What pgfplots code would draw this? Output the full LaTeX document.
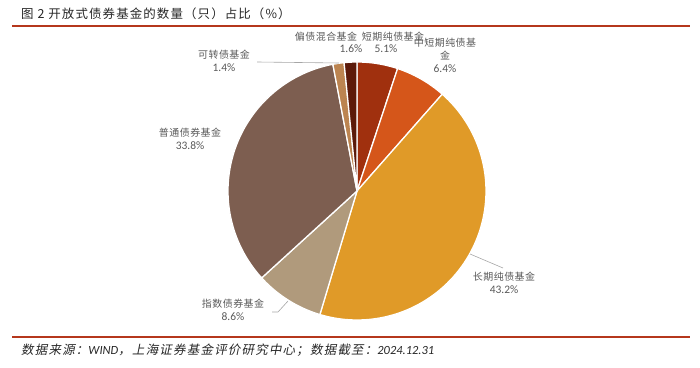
\documentclass[border=0pt]{standalone}
\usepackage{fontspec}
\setmainfont{Carlito}
\newfontfamily\cjk[LetterSpace=5]{Noto Sans CJK SC}
\newfontfamily\cjkt[LetterSpace=9]{Noto Sans CJK SC}
\newfontfamily\cjki[FakeSlant=0.2,LetterSpace=10]{Noto Sans CJK SC}
\usepackage{pgfplots}
\usepackage{pgfplotstable}
\pgfplotsset{compat=1.18}
\definecolor{c0}{HTML}{A0300E}
\definecolor{c1}{HTML}{D5561A}
\definecolor{c2}{HTML}{E09A28}
\definecolor{c3}{HTML}{B09A7C}
\definecolor{c4}{HTML}{7D5E50}
\definecolor{c5}{HTML}{BC8450}
\definecolor{c6}{HTML}{5C1A0A}
\definecolor{rline}{HTML}{B5371C}
\definecolor{lbl}{HTML}{595959}
\definecolor{lead}{HTML}{A6A6A6}
\pgfplotstableread{
name val
短期纯债基金 5.1
中短期纯债基金 6.4
长期纯债基金 43.2
指数债券基金 8.6
普通债券基金 33.8
可转债基金 1.4
偏债混合基金 1.6
}\piedata
\begin{document}
\begin{tikzpicture}
\def\cur{90}
\pgfplotsforeachungrouped \i in {0,...,6}{%
  \pgfplotstablegetelem{\i}{val}\of\piedata
  \pgfmathsetmacro\tmp{\cur-\pgfplotsretval*360/100.1}%
  \expandafter\let\csname beg\i\endcsname\cur
  \expandafter\let\csname end\i\endcsname\tmp
  \let\cur\tmp
}
\begin{axis}[width=700bp, height=367bp, scale only axis,
  xmin=0, xmax=700, ymin=0, ymax=367, axis lines=none, clip=false]
\path (axis cs:0,0) rectangle (axis cs:700,367);
\pgfplotsinvokeforeach{0,...,6}{%
  \addplot[fill=c#1, draw=white, line width=1.3pt, line join=round,
    domain={\csname end#1\endcsname}:{\csname beg#1\endcsname}, samples=80, variable=\t]
    ({357+129*cos(\t)},{176+129*sin(\t)}) -- (axis cs:357,176) -- cycle;
}
% leader lines
\draw[lead, line width=0.6pt] (axis cs:257,305) -- (axis cs:339,304);
\draw[lead, line width=0.6pt] (axis cs:272,55) -- (axis cs:278,55) -- (axis cs:288,66);
\draw[lead, line width=0.6pt] (axis cs:470,113) -- (axis cs:503,99);
% labels
\begin{scope}[every node/.style={text=lbl, inner sep=0pt, font=\fontsize{10}{11}\selectfont},
  pct/.style={font=\fontsize{11.5}{12}\selectfont}]
\node at (axis cs:326,330) {\cjk 偏债混合基金};
\node[pct] at (axis cs:351,318) {1.6\%};
\node at (axis cs:393,330) {\cjk 短期纯债基金};
\node[pct] at (axis cs:386,318) {5.1\%};
\node at (axis cs:445,324) {\cjk 中短期纯债基};
\node at (axis cs:445,311) {\cjk 金};
\node[pct] at (axis cs:445,298) {6.4\%};
\node at (axis cs:224,312) {\cjk 可转债基金};
\node[pct] at (axis cs:224,299) {1.4\%};
\node at (axis cs:190,234) {\cjk 普通债券基金};
\node[pct] at (axis cs:190,221) {33.8\%};
\node at (axis cs:233,63) {\cjk 指数债券基金};
\node[pct] at (axis cs:233,50) {8.6\%};
\node at (axis cs:504,90) {\cjk 长期纯债基金};
\node[pct] at (axis cs:504,77) {43.2\%};
\end{scope}
% title and footer
\node[anchor=west, inner sep=0pt, text=black!85, font=\fontsize{12.5}{14}\selectfont] at (axis cs:21,353) {\cjkt 图\ 2\ 开放式债券基金的数量（只）占比（\%）};
\draw[rline, line width=1.5pt] (axis cs:12,341) -- (axis cs:690,341);
\draw[rline, line width=1.5pt] (axis cs:12,30) -- (axis cs:690,30);
\node[anchor=west, inner sep=0pt, text=black!85, font=\fontsize{12.5}{14}\selectfont] at (axis cs:21,17) {\cjki 数据来源：\itshape\rmfamily WIND\cjki ，上海证券基金评价研究中心；数据截至：\itshape\rmfamily 2024.12.31};
\end{axis}
\end{tikzpicture}
\end{document}
